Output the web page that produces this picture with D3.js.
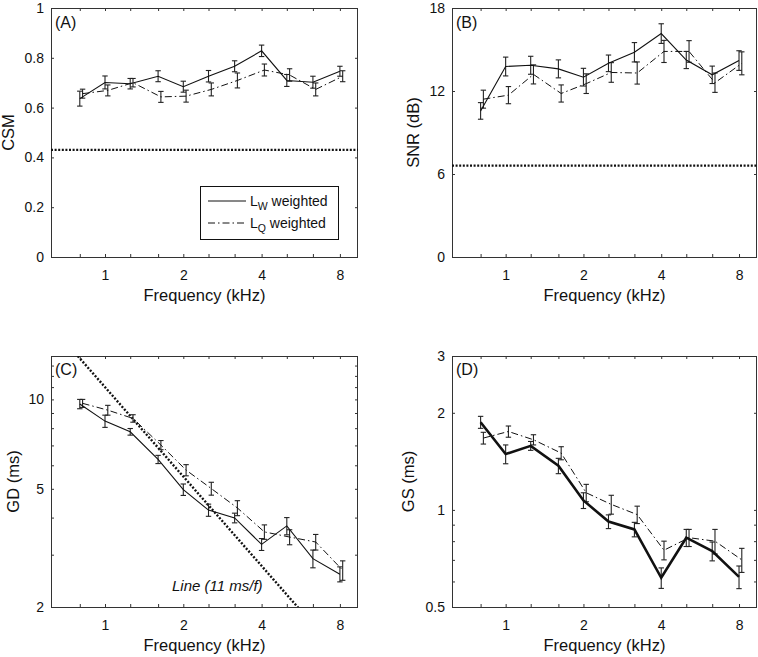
<!DOCTYPE html>
<html><head><meta charset="utf-8">
<script src="https://cdn.jsdelivr.net/npm/d3@7"></script>
<style>
html,body{margin:0;padding:0;background:#fff;}
svg text{font-family:"Liberation Sans",Arial,Helvetica,sans-serif;fill:#111;}
</style></head>
<body>
<svg id="chart" width="758" height="657"></svg>
<script>
// ---------- data ----------
const freqs = [0.8, 1, 1.25, 1.6, 2, 2.5, 3.15, 4, 5, 6.3, 8];
const xTickLabels = [1, 2, 4, 8];

const csmLW    = [0.636, 0.701, 0.696, 0.726, 0.684, 0.726, 0.766, 0.828, 0.709, 0.702, 0.746];
const csmLWerr = [0.030, 0.026, 0.021, 0.022, 0.022, 0.023, 0.022, 0.023, 0.024, 0.024, 0.020];
const csmLQ    = [0.656, 0.669, 0.700, 0.643, 0.646, 0.673, 0.709, 0.751, 0.731, 0.673, 0.726];
const csmLQerr = [0.018, 0.022, 0.017, 0.022, 0.024, 0.026, 0.030, 0.024, 0.025, 0.026, 0.022];
const csmThreshold = 0.43;
const csmTicks = [0, 0.2, 0.4, 0.6, 0.8, 1];

const snrLW    = [10.56, 13.77, 13.86, 13.6, 13.0, 14.0, 14.8, 16.15, 14.24, 13.17, 14.2];
const snrLWerr = [0.6, 0.68, 0.65, 0.65, 0.64, 0.6, 0.7, 0.71, 0.62, 0.63, 0.71];
const snrLQ    = [11.41, 11.7, 13.2, 11.82, 12.53, 13.34, 13.3, 14.86, 14.86, 12.6, 14.0];
const snrLQerr = [0.65, 0.62, 0.69, 0.62, 0.71, 0.71, 0.8, 0.8, 0.78, 0.7, 0.83];
const snrThreshold = 6.6;
const snrTicks = [0, 6, 12, 18];

const gdLW    = [9.65, 8.45, 7.78, 6.28, 4.97, 4.24, 3.99, 3.25, 3.75, 2.91, 2.58];
const gdLWerr = [0.35, 0.4, 0.2, 0.2, 0.22, 0.2, 0.15, 0.15, 0.25, 0.2, 0.15];
const gdLQ    = [9.70, 9.2, 8.63, 7.02, 5.78, 5.01, 4.31, 3.58, 3.44, 3.31, 2.66];
const gdLQerr = [0.3, 0.35, 0.25, 0.25, 0.25, 0.25, 0.25, 0.2, 0.2, 0.2, 0.2];
const gdLineConst = 11; // ms / f
const gdTicks = [2, 5, 10];
const gdMinorTicks = [3, 4, 6, 7, 8, 9, 11, 12, 13];

const gsLW    = [1.87, 1.49, 1.58, 1.37, 1.07, 0.92, 0.87, 0.616, 0.82, 0.745, 0.62];
const gsLWerr = [0.08, 0.1, 0.05, 0.075, 0.06, 0.045, 0.045, 0.045, 0.05, 0.05, 0.05];
const gsLQ    = [1.67, 1.75, 1.65, 1.50, 1.13, 1.04, 0.967, 0.75, 0.82, 0.80, 0.70];
const gsLQerr = [0.07, 0.07, 0.06, 0.07, 0.07, 0.07, 0.06, 0.05, 0.05, 0.07, 0.06];
const gsTicks = [0.5, 1, 2, 3];
const gsMinorTicks = [0.6, 0.7, 0.8, 0.9];

// ---------- drawing ----------
const svg = d3.select("#chart");
const xDomain = [0.62, 9.39];
const lqShift = 1.025;
const FRAME = "#333";

function panel(cfg) {
  const g = svg.append("g");
  const x = d3.scaleLog().base(2).domain(xDomain).range([cfg.left, cfg.right]);
  const y = (cfg.log ? d3.scaleLog() : d3.scaleLinear()).domain(cfg.yDomain).range([cfg.bottom, cfg.top]);
  const clipId = "clip" + cfg.name;
  svg.append("clipPath").attr("id", clipId).append("rect")
    .attr("x", cfg.left).attr("y", cfg.top).attr("width", cfg.right - cfg.left).attr("height", cfg.bottom - cfg.top);

  // axes
  const allY = cfg.yTicks.concat(cfg.yMinor || []);
  const fmtX = d => xTickLabels.includes(d) ? String(d) : "";
  const fmtY = d => cfg.yTicks.includes(d) ? String(d) : "";
  const styleAxis = a => { a.select(".domain").remove(); a.selectAll("line").attr("stroke", FRAME); a.selectAll("text").attr("font-size", 14).attr("fill", "#111"); };
  g.append("g").attr("transform", `translate(0,${cfg.bottom})`)
    .call(d3.axisBottom(x).tickValues(freqs).tickFormat(fmtX).tickSizeInner(-3).tickSizeOuter(0).tickPadding(13)).call(styleAxis);
  g.append("g").attr("transform", `translate(0,${cfg.top})`)
    .call(d3.axisTop(x).tickValues(freqs).tickFormat("").tickSizeInner(-3).tickSizeOuter(0)).call(styleAxis);
  g.append("g").attr("transform", `translate(${cfg.left},0)`)
    .call(d3.axisLeft(y).tickValues(allY).tickFormat(fmtY).tickSizeInner(-3).tickSizeOuter(0).tickPadding(7)).call(styleAxis);
  g.append("g").attr("transform", `translate(${cfg.right},0)`)
    .call(d3.axisRight(y).tickValues(allY).tickFormat("").tickSizeInner(-3).tickSizeOuter(0)).call(styleAxis);
  g.append("rect").attr("x", cfg.left + 0.5).attr("y", cfg.top + 0.5)
    .attr("width", cfg.right - cfg.left - 1).attr("height", cfg.bottom - cfg.top)
    .attr("fill", "none").attr("stroke", FRAME).attr("stroke-width", 1);

  // labels
  g.append("text").attr("x", (cfg.left + cfg.right) / 2).attr("y", cfg.bottom + 44)
    .attr("text-anchor", "middle").attr("font-size", 16.5).text("Frequency (kHz)");
  g.append("text").attr("transform", `translate(${cfg.left + cfg.yLabelDx},${(cfg.top + cfg.bottom) / 2}) rotate(-90)`)
    .attr("text-anchor", "middle").attr("dy", "0.35em").attr("font-size", 16.5).text(cfg.yLabel);
  g.append("text").attr("x", cfg.left + 4).attr("y", cfg.top + cfg.letterDy)
    .attr("font-size", 16).text(cfg.letter);

  const plot = g.append("g").attr("clip-path", `url(#${clipId})`);
  // reference line
  if (cfg.threshold !== undefined) {
    plot.append("line").attr("x1", cfg.left).attr("x2", cfg.right)
      .attr("y1", y(cfg.threshold)).attr("y2", y(cfg.threshold))
      .attr("stroke", "#111").attr("stroke-width", 2.2).attr("stroke-dasharray", "2,1.6");
  }
  if (cfg.refLine) {
    const fs = d3.range(0, 81).map(i => xDomain[0] * Math.pow(xDomain[1] / xDomain[0], i / 80));
    plot.append("path").datum(fs)
      .attr("d", d3.line().x(f => x(f)).y(f => y(cfg.refLine(f))))
      .attr("fill", "none").attr("stroke", "#111").attr("stroke-width", 2.4).attr("stroke-dasharray", "2,1.7");
  }

  function series(vals, errs, shift, dash, width) {
    const pts = freqs.map((f, i) => ({ f: f * shift, v: vals[i], e: errs[i] }));
    const eb = plot.append("g").attr("stroke", "#222").attr("stroke-width", 1.1);
    pts.forEach(p => {
      const xx = x(p.f), y1 = y(p.v - p.e), y2 = y(p.v + p.e);
      eb.append("line").attr("x1", xx).attr("x2", xx).attr("y1", y1).attr("y2", y2);
      eb.append("line").attr("x1", xx - 2.7).attr("x2", xx + 2.7).attr("y1", y1).attr("y2", y1);
      eb.append("line").attr("x1", xx - 2.7).attr("x2", xx + 2.7).attr("y1", y2).attr("y2", y2);
    });
    plot.append("path").datum(pts)
      .attr("d", d3.line().x(p => x(p.f)).y(p => y(p.v)))
      .attr("fill", "none").attr("stroke", "#111").attr("stroke-width", width)
      .attr("stroke-dasharray", dash);
  }
  series(cfg.lq, cfg.lqErr, lqShift, "7,3,1.5,3", 1);
  series(cfg.lw, cfg.lwErr, 1, null, cfg.lwWidth || 1.1);

  if (cfg.lineLabel) {
    g.append("text").attr("x", cfg.lineLabel.x).attr("y", cfg.lineLabel.y)
      .attr("font-size", 15).attr("font-style", "italic").text(cfg.lineLabel.text);
  }
  return { g, x, y };
}

panel({ name: "A", letter: "(A)", left: 51, right: 358, top: 8, bottom: 257, yDomain: [0, 1],
  yTicks: csmTicks, yLabel: "CSM", yLabelDx: -43, letterDy: 20,
  lw: csmLW, lwErr: csmLWerr, lq: csmLQ, lqErr: csmLQerr, threshold: csmThreshold });
panel({ name: "B", letter: "(B)", left: 452, right: 757, top: 8, bottom: 257, yDomain: [0, 18],
  yTicks: snrTicks, yLabel: "SNR (dB)", yLabelDx: -39, letterDy: 20,
  lw: snrLW, lwErr: snrLWerr, lq: snrLQ, lqErr: snrLQerr, threshold: snrThreshold });
panel({ name: "C", letter: "(C)", left: 51, right: 358, top: 356, bottom: 607, yDomain: [2, 14], log: true,
  yTicks: gdTicks, yMinor: gdMinorTicks, yLabel: "GD (ms)", yLabelDx: -38, letterDy: 19,
  lw: gdLW, lwErr: gdLWerr, lq: gdLQ, lqErr: gdLQerr, refLine: f => gdLineConst / f,
  lineLabel: { x: 172, y: 591, text: "Line (11 ms/f)" } });
panel({ name: "D", letter: "(D)", left: 452, right: 757, top: 356, bottom: 607, yDomain: [0.5, 3], log: true,
  yTicks: gsTicks, yMinor: gsMinorTicks, yLabel: "GS (ms)", yLabelDx: -44, letterDy: 19,
  lw: gsLW, lwErr: gsLWerr, lq: gsLQ, lqErr: gsLQerr, lwWidth: 2.6 });

// legend in panel A
const leg = svg.append("g");
leg.append("rect").attr("x", 200.5).attr("y", 186.5).attr("width", 138).attr("height", 53)
  .attr("fill", "#fff").attr("stroke", "#111").attr("stroke-width", 1);
const legItems = [{ sub: "W", dash: null, y: 201 }, { sub: "Q", dash: "7,3,1.5,3", y: 223 }];
legItems.forEach(it => {
  leg.append("line").attr("x1", 208).attr("x2", 246).attr("y1", it.y).attr("y2", it.y)
    .attr("stroke", "#111").attr("stroke-width", 1).attr("stroke-dasharray", it.dash);
  const t = leg.append("text").attr("x", 250).attr("y", it.y + 5).attr("font-size", 14);
  t.append("tspan").text("L");
  t.append("tspan").attr("font-size", 10.5).attr("dy", 4).text(it.sub);
  t.append("tspan").attr("dy", -4).text(" weighted");
});
</script>
</body></html>
